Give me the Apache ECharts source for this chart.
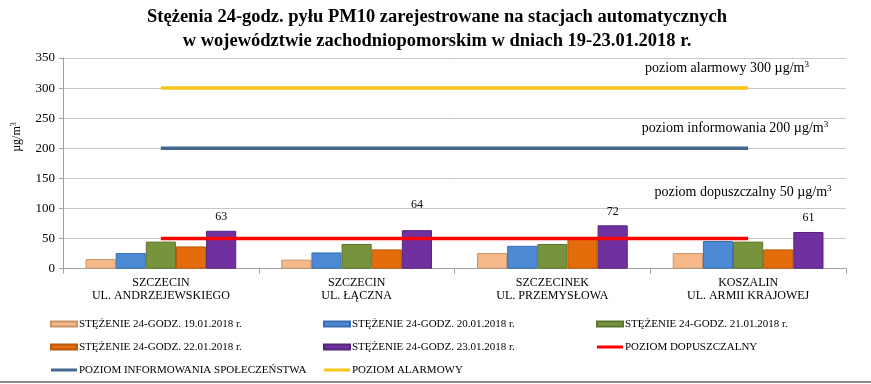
<!DOCTYPE html>
<html><head><meta charset="utf-8">
<script src="https://cdn.jsdelivr.net/npm/echarts@6/dist/echarts.min.js"></script>
<style>html,body{margin:0;padding:0;background:#fff}#c{width:871px;height:384px}</style>
</head><body><div id="c"></div>
<script>
const categories = ['SZCZECIN\nUL. ANDRZEJEWSKIEGO', 'SZCZECIN\nUL. ŁĄCZNA', 'SZCZECINEK\nUL. PRZEMYSŁOWA', 'KOSZALIN\nUL. ARMII KRAJOWEJ'];
const s19 = [16, 15, 26, 26];
const s20 = [26, 27, 38, 46];
const s21 = [45, 41, 41, 45];
const s22 = [37, 32, 50, 32];
const s23 = [63, 64, 72, 61];
const dopuszczalny = [50, 50, 50, 50];
const informowania = [200, 200, 200, 200];
const alarmowy = [300, 300, 300, 300];
const yTicks = [0, 50, 100, 150, 200, 250, 300, 350];

const FONT = 'Liberation Serif';
const names = {
  s19: 'STĘŻENIE 24-GODZ. 19.01.2018 r.',
  s20: 'STĘŻENIE 24-GODZ. 20.01.2018 r.',
  s21: 'STĘŻENIE 24-GODZ. 21.01.2018 r.',
  s22: 'STĘŻENIE 24-GODZ. 22.01.2018 r.',
  s23: 'STĘŻENIE 24-GODZ. 23.01.2018 r.',
  dop: 'POZIOM DOPUSZCZALNY',
  inf: 'POZIOM INFORMOWANIA SPOŁECZEŃSTWA',
  alr: 'POZIOM ALARMOWY'
};
function bar(name, data, color, border, extra) {
  return Object.assign({
    type: 'bar', name, data,
    barGap: 0, barCategoryGap: '23%',
    itemStyle: { color, borderColor: border, borderWidth: 1 },
    emphasis: { disabled: true }
  }, extra || {});
}
function line(name, data, color) {
  return {
    type: 'line', name, data, symbol: 'none', z: 5,
    lineStyle: { color, width: 3.5 }, itemStyle: { color },
    emphasis: { disabled: true }
  };
}
const s23data = s23.map((v, i) => i === 1 ? { value: v, label: { distance: 19 } } : v);

const LINE_ICON = 'path://M0,0L0,0M0,1H26V4H0ZM0,5L0,5';
const legendBase = {
  orient: 'vertical', itemWidth: 26, itemHeight: 5, itemGap: 9, padding: 0,
  icon: 'rect',
  textStyle: { fontFamily: FONT, fontSize: 11, color: '#000', lineHeight: 14, padding: [0, 0, 0, -3] },
  selectedMode: false
};
function li(name) { return { name, icon: LINE_ICON }; }
const chart = echarts.init(document.getElementById('c'));
chart.setOption({
  animation: false,
  title: {
    text: 'Stężenia 24-godz. pyłu PM10 zarejestrowane na stacjach automatycznych\nw województwie zachodniopomorskim w dniach 19-23.01.2018 r.',
    left: 437, top: 5, textAlign: 'center', padding: 0,
    textStyle: { fontFamily: FONT, fontSize: 18.5, fontWeight: 'bold', color: '#000', lineHeight: 24 }
  },
  grid: { left: 63, right: 25, top: 58, bottom: 115.3 },
  xAxis: {
    type: 'category', data: categories,
    axisLine: { lineStyle: { color: '#a0a0a0' } },
    axisTick: { show: true, length: 5, lineStyle: { color: '#a0a0a0' } },
    axisLabel: { fontFamily: FONT, fontSize: 12, color: '#000', lineHeight: 13, margin: 8, interval: 0 }
  },
  yAxis: {
    type: 'value', min: 0, max: 350, interval: 50,
    axisLine: { show: true, lineStyle: { color: '#a0a0a0' } },
    axisTick: { show: true, length: 4, lineStyle: { color: '#a0a0a0' } },
    splitLine: { lineStyle: { color: '#c8c8c8' } },
    axisLabel: { fontFamily: FONT, fontSize: 13, color: '#000', margin: 8,
      formatter: v => yTicks.includes(v) ? String(v) : '' }
  },
  legend: [
    Object.assign({}, legendBase, { left: 50, top: 317, data: [names.s19, names.s22, li(names.inf)] }),
    Object.assign({}, legendBase, { left: 323, top: 317, data: [names.s20, names.s23, li(names.alr)] }),
    Object.assign({}, legendBase, { left: 596, top: 317, data: [names.s21, li(names.dop)] })
  ],
  series: [
    bar(names.s19, s19, '#F6B98A', '#c9936a'),
    bar(names.s20, s20, '#4C8AD6', '#3a6fae'),
    bar(names.s21, s21, '#77933C', '#5c742c'),
    bar(names.s22, s22, '#E46C0A', '#b95708'),
    bar(names.s23, s23data, '#7030A0', '#55237c', {
      label: { show: true, position: 'top', distance: 8, fontFamily: FONT, fontSize: 12, color: '#000' }
    }),
    line(names.dop, dopuszczalny, '#FF0000'),
    line(names.inf, informowania, '#44668F'),
    line(names.alr, alarmowy, '#F5C518')
  ],
  graphic: [
    { type: 'text', x: 17, y: 137, rotation: Math.PI / 2,
      style: { text: '{a|µg/m}{s|3}', align: 'center', verticalAlign: 'middle',
        rich: { a: { fontFamily: FONT, fontSize: 12, fill: '#000' }, s: { fontFamily: FONT, fontSize: 8, fill: '#000', padding: [0,0,6,0] } } } },
    { type: 'text', x: 727, y: 68,
      style: { text: '{a|poziom alarmowy 300 µg/m}{s|3}', align: 'center', verticalAlign: 'middle',
        rich: { a: { fontFamily: FONT, fontSize: 14, fill: '#000' }, s: { fontFamily: FONT, fontSize: 9, fill: '#000', padding: [0,0,7,0] } } } },
    { type: 'text', x: 735, y: 128,
      style: { text: '{a|poziom informowania 200 µg/m}{s|3}', align: 'center', verticalAlign: 'middle',
        rich: { a: { fontFamily: FONT, fontSize: 14, fill: '#000' }, s: { fontFamily: FONT, fontSize: 9, fill: '#000', padding: [0,0,7,0] } } } },
    { type: 'text', x: 743, y: 192,
      style: { text: '{a|poziom dopuszczalny 50 µg/m}{s|3}', align: 'center', verticalAlign: 'middle',
        rich: { a: { fontFamily: FONT, fontSize: 14, fill: '#000' }, s: { fontFamily: FONT, fontSize: 9, fill: '#000', padding: [0,0,7,0] } } } },
    { type: 'rect', shape: { x: 0, y: 381, width: 871, height: 2 }, style: { fill: '#8c8c8c' } }
  ]
});
</script></body></html>
